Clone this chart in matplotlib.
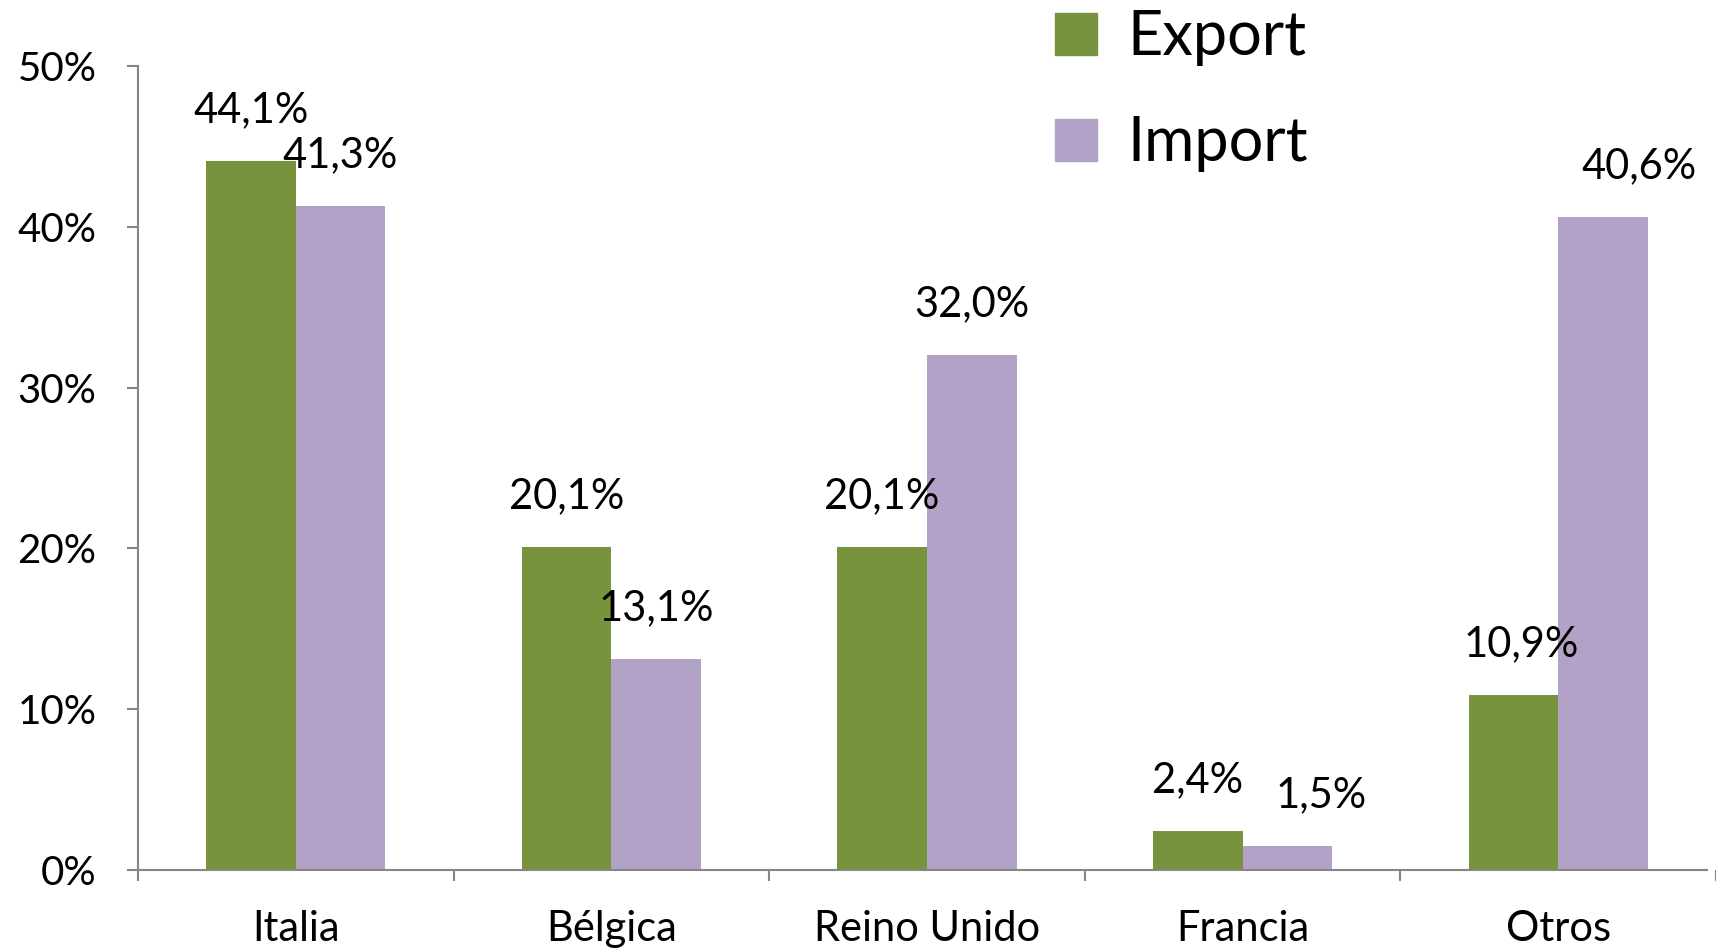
import matplotlib
matplotlib.use("Agg")
import matplotlib.pyplot as plt
from matplotlib.patches import Patch
from matplotlib.ticker import FixedLocator, FuncFormatter

categories = ["Italia", "Bélgica", "Reino Unido", "Francia", "Otros"]
export_vals = [44.1, 20.1, 20.1, 2.4, 10.9]
import_vals = [41.3, 13.1, 32.0, 1.5, 40.6]
series_names = ["Export", "Import"]
yticks = [0, 10, 20, 30, 40, 50]

# horizontal nudges (points) of the value labels, as placed in the original
export_label_dx = [0, 0, 0, 0, 6]
import_label_dx = [0, 0, 0, 24, 26]

GREEN = "#77933C"
PURPLE = "#B3A2C7"
AXIS = "#868686"

plt.rcParams["font.family"] = ["Lato", "DejaVu Sans"]

fig = plt.figure(figsize=(17.16, 9.5), dpi=100)
ax = fig.add_axes([138 / 1716, 80 / 950, (1716 - 138) / 1716, (870 - 66) / 950])

x = list(range(len(categories)))
w = 0.284
b1 = ax.bar([i - w / 2 for i in x], export_vals, width=w, color=GREEN, label=series_names[0])
b2 = ax.bar([i + w / 2 for i in x], import_vals, width=w, color=PURPLE, label=series_names[1])

def fmt(v):
    return f"{v:.1f}%".replace(".", ",")

for bars, vals, dxs in ((b1, export_vals, export_label_dx), (b2, import_vals, import_label_dx)):
    for r, v, dx in zip(bars, vals, dxs):
        ax.annotate(fmt(v), (r.get_x() + r.get_width() / 2, v), xytext=(dx, 28),
                    textcoords="offset points", ha="center", va="baseline",
                    fontsize=30, color="black")

ax.set_xlim(-0.5, len(categories) - 0.5)
ax.set_ylim(0, 50)
ax.set_yticks(yticks)
ax.yaxis.set_major_formatter(FuncFormatter(lambda v, p: f"{v:.0f}%"))
ax.tick_params(axis="y", length=8, width=1.5, color=AXIS, pad=22, labelsize=29)

ax.set_xticks(x)
ax.set_xticklabels(categories)
ax.xaxis.set_minor_locator(FixedLocator([i - 0.5 for i in range(len(categories) + 1)]))
ax.tick_params(axis="x", which="major", length=0, pad=29, labelsize=30)
ax.tick_params(axis="x", which="minor", length=8, width=1.5, color=AXIS)

for s in ("top", "right"):
    ax.spines[s].set_visible(False)
for s in ("left", "bottom"):
    ax.spines[s].set_color(AXIS)
    ax.spines[s].set_linewidth(1.5)
ax.spines["bottom"].set_bounds(-0.5, 4.47)

handles = [Patch(color=GREEN), Patch(color=PURPLE)]
ax.legend(handles, series_names, loc="upper left", bbox_to_anchor=(1055 / 1716, 0.99),
          bbox_transform=fig.transFigure, frameon=False, fontsize=44,
          handlelength=0.69, handleheight=0.69, handletextpad=0.5,
          labelspacing=0.8, borderpad=0, borderaxespad=0)

fig.savefig("out.png", dpi=100)
